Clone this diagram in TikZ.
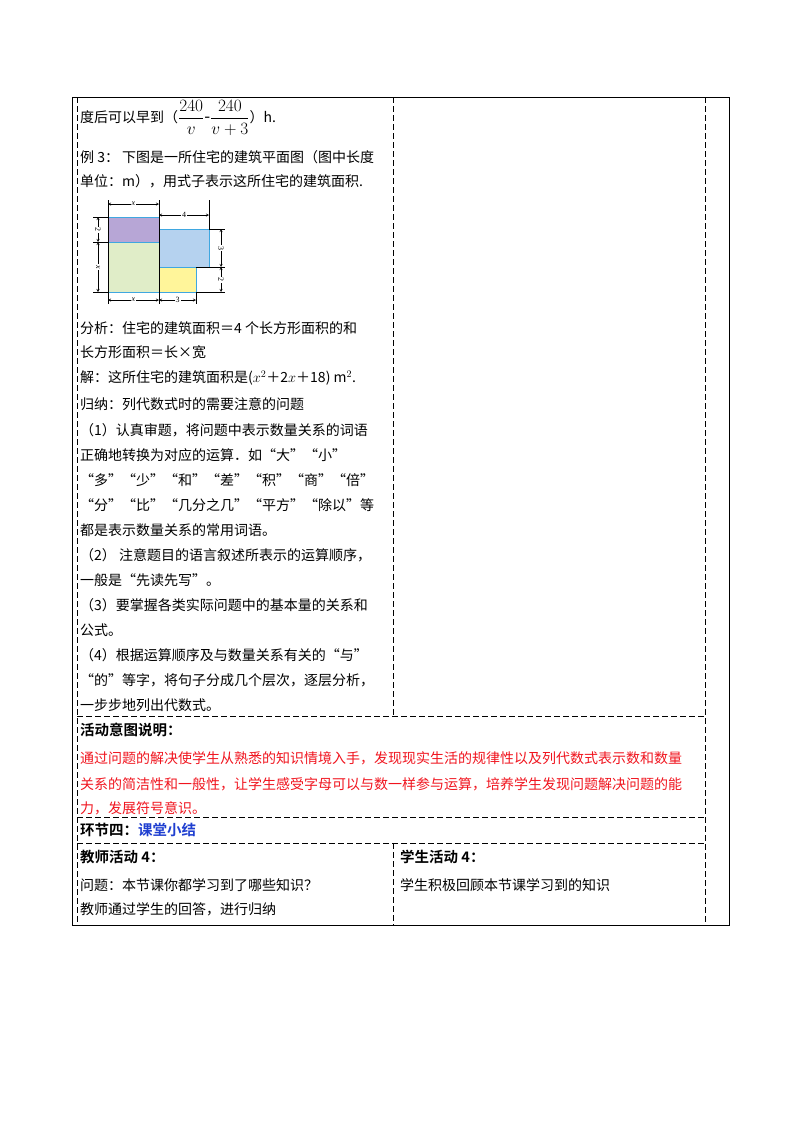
\documentclass[tikz,border=0pt]{standalone}
\usepackage{fontspec}
\usepackage{amsmath}
\setmainfont{Liberation Serif}
\newfontfamily\cjk{Noto Sans CJK SC}
\newfontfamily\cjkb{Noto Sans CJK SC Bold}
\definecolor{pur}{HTML}{B7A6D6}
\definecolor{grn}{HTML}{E0EDC8}
\definecolor{blu}{HTML}{B5D2EF}
\definecolor{yel}{HTML}{FFF59A}
\definecolor{edg}{HTML}{3FA7E0}
\definecolor{myred}{HTML}{F0141E}
\definecolor{myblue}{HTML}{1F3FD0}
\begin{document}
\begin{tikzpicture}[x=1pt,y=-1pt,
  txt/.style={anchor=west,inner sep=0pt,font=\cjk\fontsize{14}{24}\selectfont},
  hd/.style={anchor=west,inner sep=0pt,font=\cjkb\fontsize{14.5}{24}\selectfont},
  dl/.style={line width=0.7pt,dash pattern=on 6pt off 3pt},
  dim/.style={line width=0.4pt,<->,>=stealth},
  ext/.style={line width=0.4pt},
  lab/.style={fill=white,inner sep=1pt,font=\fontsize{8}{8}\selectfont\itshape}]
\useasboundingbox (0,0) rectangle (800,1132);
% frame
\draw[line width=0.8pt] (72,97) rectangle (729,925);
\draw[dl] (77,97) -- (77,925);
\draw[dl] (705,97) -- (705,925);
\draw[dl] (393,97) -- (393,716);
\draw[dl] (393,843) -- (393,925);
\draw[dl] (77,716) -- (705,716);
\draw[dl] (77,817) -- (705,817);
\draw[dl] (77,843) -- (705,843);
% text left column
\node[txt] (t1) at (80,118) {度后可以早到（{\fontsize{17}{20}\selectfont$\dfrac{240}{v}$-$\dfrac{240}{v+3}$}）h.};
\node[txt] (t2) at (80,157) {例 3：\ 下图是一所住宅的建筑平面图（图中长度};
\node[txt] (t3) at (80,181) {单位：m），用式子表示这所住宅的建筑面积.};
% figure
\fill[pur] (108,217) rectangle (159,242);
\fill[grn] (108,242) rectangle (159,292);
\fill[blu] (159,229) rectangle (209,267);
\fill[yel] (159,267) rectangle (196,292);
\draw[edg,line width=0.6pt] (108,217) rectangle (159,242) (108,242) rectangle (159,292) (159,229) rectangle (209,267) (159,267) rectangle (196,292);
\draw[ext] (108,200)--(108,304) (159,200)--(159,304) (209,200)--(209,229) (196,292)--(196,304);
\draw[ext] (93,217)--(108,217) (93,242)--(108,242) (93,292)--(108,292) (209,229)--(225,229) (196,267)--(225,267) (196,292)--(225,292);
\draw[dim] (108,204)--(159,204) node[lab,midway] {x};
\draw[dim] (159,215)--(209,215) node[lab,midway,font=\fontsize{8}{8}\selectfont] {4};
\draw[dim] (108,300)--(159,300) node[lab,midway] {x};
\draw[dim] (159,300)--(196,300) node[lab,midway,font=\fontsize{8}{8}\selectfont] {3};
\draw[dim] (98,217)--(98,242) node[lab,midway,rotate=-90,font=\fontsize{8}{8}\selectfont] {2};
\draw[dim] (98,242)--(98,292) node[lab,midway,rotate=-90] {x};
\draw[dim] (221,229)--(221,267) node[lab,midway,rotate=-90,font=\fontsize{8}{8}\selectfont] {3};
\draw[dim] (221,267)--(221,292) node[lab,midway,rotate=-90,font=\fontsize{8}{8}\selectfont] {2};
\node[txt] (t4) at (80,328) {分析：住宅的建筑面积＝4 个长方形面积的和};
\node[txt] (t5) at (80,352) {长方形面积＝长×宽};
\node[txt] (t6) at (80,378) {解：这所住宅的建筑面积是($x^2$＋2$x$＋18) m$^2$.};
\node[txt] (t7) at (80,404) {归纳：列代数式时的需要注意的问题};
\node[txt] (t8) at (80,430) {（1）认真审题，将问题中表示数量关系的词语};
\node[txt] (t9) at (80,455) {正确地转换为对应的运算．如“大”“小”};
\node[txt] (t10) at (80,480) {“多”“少”“和”“差”“积”“商”“倍”};
\node[txt] (t11) at (80,505) {“分”“比”“几分之几”“平方”“除以”等};
\node[txt] (t12) at (80,530) {都是表示数量关系的常用词语。};
\node[txt] (t13) at (80,555) {（2）\ 注意题目的语言叙述所表示的运算顺序，};
\node[txt] (t14) at (80,580) {一般是“先读先写”。};
\node[txt] (t15) at (80,605) {（3）要掌握各类实际问题中的基本量的关系和};
\node[txt] (t16) at (80,630) {公式。};
\node[txt] (t17) at (80,655) {（4）根据运算顺序及与数量关系有关的“与”};
\node[txt] (t18) at (80,680) {“的”等字，将句子分成几个层次，逐层分析，};
\node[txt] (t19) at (80,705) {一步步地列出代数式。};
% intent
\node[hd] (h1) at (80,730) {活动意图说明：};
\node[txt,text=myred] (r1) at (80,758) {通过问题的解决使学生从熟悉的知识情境入手，发现现实生活的规律性以及列代数式表示数和数量};
\node[txt,text=myred] (r2) at (80,784) {关系的简洁性和一般性，让学生感受字母可以与数一样参与运算，培养学生发现问题解决问题的能};
\node[txt,text=myred] (r3) at (80,808) {力，发展符号意识。};
\node[hd] (h2) at (80,830) {环节四：\textcolor{myblue}{课堂小结}};
\node[hd] (h3) at (80,857) {教师活动 4：};
\node[hd] (h4) at (400,857) {学生活动 4：};
\node[txt] (b1) at (80,885) {问题：本节课你都学习到了哪些知识？};
\node[txt] (b2) at (80,909) {教师通过学生的回答，进行归纳};
\node[txt] (b3) at (400,885) {学生积极回顾本节课学习到的知识};
\end{tikzpicture}
\end{document}
